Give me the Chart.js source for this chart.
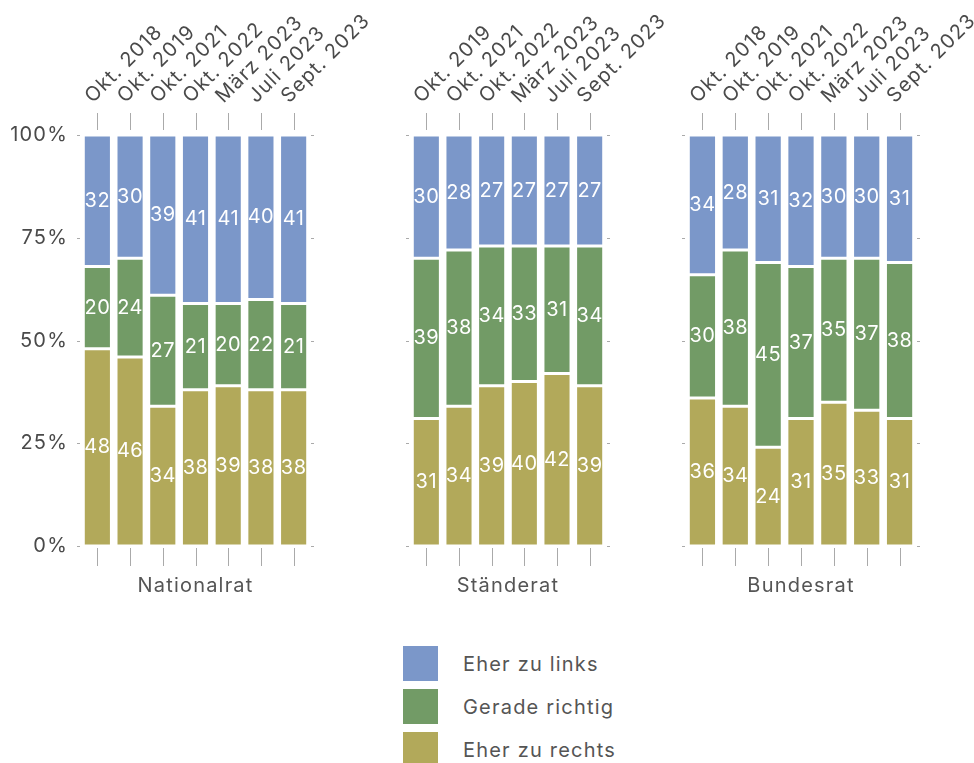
<!DOCTYPE html>
<html><head><meta charset="utf-8">
<script src="https://cdn.jsdelivr.net/npm/chart.js@4.4.1/dist/chart.umd.min.js"></script>
<style>
html,body{margin:0;padding:0;background:#fff;width:974px;height:763px;overflow:hidden;font-family:Inter,sans-serif}
canvas{position:absolute;left:0;top:0}
#legend{position:absolute;left:403px;top:646px}
.item{display:flex;align-items:center;height:35px;margin-bottom:8px}
.sw{width:35px;height:35px;margin-right:25px}
.lbl{font-size:20px;color:#555;letter-spacing:1.2px}
</style></head><body>
<canvas id="c1" width="974" height="600"></canvas>
<canvas id="c2" width="974" height="600"></canvas>
<canvas id="c3" width="974" height="600"></canvas>
<div id="legend"></div>
<script>
// ---- data ----
const seriesNames = ['Eher zu links', 'Gerade richtig', 'Eher zu rechts'];
const seriesColors = ['#7b97c9', '#729b66', '#b2a95a'];
const yTickValues = [0, 25, 50, 75, 100];

const nationalratLabels = ['Okt. 2018', 'Okt. 2019', 'Okt. 2021', 'Okt. 2022', 'März 2023', 'Juli 2023', 'Sept. 2023'];
const nationalratLinks   = [32, 30, 39, 41, 41, 40, 41];
const nationalratRichtig = [20, 24, 27, 21, 20, 22, 21];
const nationalratRechts  = [48, 46, 34, 38, 39, 38, 38];

const staenderatLabels = ['Okt. 2019', 'Okt. 2021', 'Okt. 2022', 'März 2023', 'Juli 2023', 'Sept. 2023'];
const staenderatLinks   = [30, 28, 27, 27, 27, 27];
const staenderatRichtig = [39, 38, 34, 33, 31, 34];
const staenderatRechts  = [31, 34, 39, 40, 42, 39];

const bundesratLabels = ['Okt. 2018', 'Okt. 2019', 'Okt. 2021', 'Okt. 2022', 'März 2023', 'Juli 2023', 'Sept. 2023'];
const bundesratLinks   = [34, 28, 31, 32, 30, 30, 31];
const bundesratRichtig = [30, 38, 45, 37, 35, 37, 38];
const bundesratRechts  = [36, 34, 24, 31, 35, 33, 31];

const FONT = 'Inter';
const TEXT = '#4a4a4a';
const SPACING = '1.2px';

const spacingPlugin = {
  id: 'spacing',
  beforeLayout(chart) { chart.ctx.letterSpacing = SPACING; },
  beforeDraw(chart) { chart.ctx.letterSpacing = SPACING; }
};

const valueLabels = {
  id: 'valueLabels',
  afterDatasetsDraw(chart) {
    const ctx = chart.ctx;
    ctx.save();
    ctx.letterSpacing = '0.5px';
    ctx.font = '20px ' + FONT;
    ctx.fillStyle = '#fff';
    ctx.textAlign = 'center';
    ctx.textBaseline = 'middle';
    chart.data.datasets.forEach((ds, di) => {
      const meta = chart.getDatasetMeta(di);
      meta.data.forEach((el, i) => {
        ctx.fillText(String(ds.data[i]), el.x, (el.y + el.base) / 2);
      });
    });
    ctx.restore();
  }
};

const tickMarks = {
  id: 'tickMarks',
  afterDraw(chart) {
    const ctx = chart.ctx, a = chart.chartArea, xs = chart.scales.x, ys = chart.scales.y;
    ctx.save();
    ctx.strokeStyle = '#aaa';
    ctx.lineWidth = 1;
    ctx.beginPath();
    xs.ticks.forEach((t, i) => {
      const x = Math.round(xs.getPixelForTick(i)) + 0.5;
      ctx.moveTo(x, a.top - 22); ctx.lineTo(x, a.top - 5);
      ctx.moveTo(x, a.bottom + 2); ctx.lineTo(x, a.bottom + 20);
    });
    yTickValues.forEach(v => {
      const y = Math.round(ys.getPixelForValue(v)) + 0.5;
      ctx.moveTo(a.left - 4, y); ctx.lineTo(a.left - 1, y);
      ctx.moveTo(a.right + 1, y); ctx.lineTo(a.right + 4, y);
    });
    ctx.stroke();
    ctx.restore();
  }
};

function makePanel(id, title, labels, links, richtig, rechts, left, right, showY) {
  const mk = (i, data) => ({
    label: seriesNames[i], data, backgroundColor: seriesColors[i],
    borderColor: '#fff', borderWidth: 1.5, borderSkipped: false,
    barPercentage: 0.86, categoryPercentage: 1
  });
  return new Chart(document.getElementById(id), {
    type: 'bar',
    data: { labels, datasets: [mk(2, rechts), mk(1, richtig), mk(0, links)] },
    options: {
      responsive: false, animation: false,
      layout: { padding: { left: showY ? 0 : left, right: 974 - right, top: 0, bottom: 0 } },
      plugins: { legend: { display: false }, tooltip: { enabled: false } },
      scales: {
        x: {
          position: 'top', stacked: true,
          grid: { display: false, drawTicks: false }, border: { display: false },
          ticks: { autoSkip: false, minRotation: 45, maxRotation: 45, padding: 27, labelOffset: 8,
                   color: TEXT, font: { family: FONT, size: 20 } },
          afterFit(s) { s.height = 135; s.paddingLeft = 0; s.paddingRight = 0; }
        },
        x2: {
          type: 'category', labels, position: 'bottom',
          grid: { display: false }, border: { display: false },
          ticks: { display: false },
          title: { display: true, text: title, color: '#555', font: { family: FONT, size: 20 },
                   padding: { top: 0, bottom: 2 } },
          afterFit(s) { s.height = 54; s.paddingLeft = 0; s.paddingRight = 0; }
        },
        y: {
          display: showY, stacked: true, min: 0, max: 100,
          grid: { display: false, drawTicks: false }, border: { display: false },
          ticks: { stepSize: 25, padding: 13, color: TEXT, font: { family: FONT, size: 20 },
                   callback: v => v + '%' },
          afterFit(s) { if (showY) s.width = left; s.paddingTop = 0; s.paddingBottom = 0; }
        }
      }
    },
    plugins: [spacingPlugin, valueLabels, tickMarks]
  });
}

makePanel('c1', 'Nationalrat', nationalratLabels, nationalratLinks, nationalratRichtig, nationalratRechts, 81, 310, true);
makePanel('c2', 'Ständerat', staenderatLabels, staenderatLinks, staenderatRichtig, staenderatRechts, 410, 606, false);
makePanel('c3', 'Bundesrat', bundesratLabels, bundesratLinks, bundesratRichtig, bundesratRechts, 686, 916, false);

const lg = document.getElementById('legend');
seriesNames.forEach((n, i) => {
  const d = document.createElement('div'); d.className = 'item';
  const s = document.createElement('div'); s.className = 'sw'; s.style.background = seriesColors[i];
  const t = document.createElement('div'); t.className = 'lbl'; t.textContent = n;
  d.appendChild(s); d.appendChild(t); lg.appendChild(d);
});
</script>
</body></html>
